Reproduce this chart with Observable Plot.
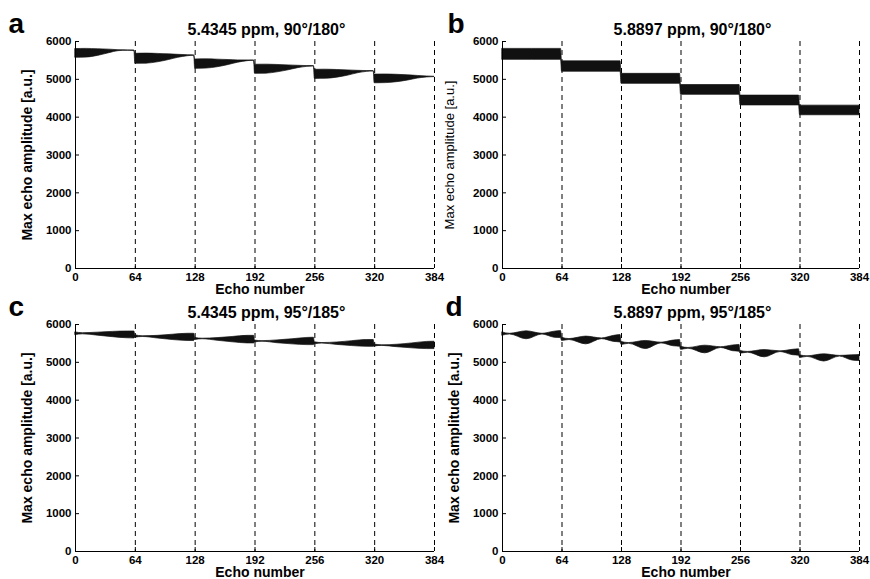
<!DOCTYPE html>
<html>
<head>
<meta charset="utf-8">
<script src="https://cdn.jsdelivr.net/npm/d3@7"></script>
<script src="https://cdn.jsdelivr.net/npm/@observablehq/plot@0.6"></script>
<style>
  html, body { margin: 0; padding: 0; background: white; }
  #root { position: relative; width: 870px; height: 579px; background: white; overflow: hidden; }
  .panel { position: absolute; }
</style>
</head>
<body>
<div id="root"></div>
<script>
// ---- tick labels / layout values ----
const xTicks = [0, 64, 128, 192, 256, 320, 384];
const yTicks = [0, 1000, 2000, 3000, 4000, 5000, 6000];
const blockEdges = [64, 128, 192, 256, 320, 384];
const xLabel = "Echo number";
const yLabel = "Max echo amplitude [a.u.]";
const titles = ["5.4345 ppm, 90°/180°", "5.8897 ppm, 90°/180°", "5.4345 ppm, 95°/185°", "5.8897 ppm, 95°/185°"];
const letters = ["a", "b", "c", "d"];

// ---- panel a: envelope of the oscillating echo amplitudes ----
const echoA = [0,12,24,36,46,56,63, 64,76,88,100,110,120,127, 128,140,152,164,174,184,191, 192,204,216,228,238,248,255, 256,268,280,292,302,312,319, 320,332,344,356,366,376,384];
const upperA = [5800,5805,5795,5785,5770,5765,5762, 5675,5680,5672,5660,5648,5638,5632, 5525,5528,5520,5510,5500,5500,5498, 5385,5388,5380,5368,5358,5350,5348, 5252,5255,5247,5235,5225,5218,5215, 5125,5128,5120,5105,5090,5075,5068];
const lowerA = [5570,5575,5620,5690,5745,5755,5752, 5410,5415,5450,5510,5570,5610,5625, 5278,5285,5320,5380,5440,5480,5492, 5145,5150,5185,5240,5295,5330,5342, 5012,5015,5045,5100,5160,5198,5208, 4895,4900,4925,4970,5020,5050,5060];

// ---- panel b ----
const echoB = [0,63, 64,127, 128,191, 192,255, 256,319, 320,384];
const upperB = [5805,5805, 5475,5475, 5145,5145, 4850,4850, 4570,4570, 4305,4305];
const lowerB = [5515,5515, 5200,5200, 4880,4880, 4590,4590, 4310,4310, 4050,4050];

// ---- panel c ----
const echoC = [0,8,24,40,56,63, 64,72,88,104,120,127, 128,136,152,168,184,191, 192,200,216,232,248,255, 256,264,280,296,312,319, 320,328,344,360,376,384];
const upperC = [5790,5770,5785,5805,5815,5815, 5715,5690,5700,5730,5755,5755, 5645,5625,5640,5670,5700,5700, 5575,5560,5580,5610,5645,5650, 5530,5510,5525,5560,5590,5590, 5470,5450,5465,5500,5540,5545];
const lowerC = [5720,5740,5705,5665,5635,5632, 5650,5670,5630,5590,5565,5565, 5590,5610,5570,5530,5500,5500, 5525,5545,5505,5475,5455,5455, 5475,5495,5460,5430,5410,5410, 5420,5435,5400,5370,5350,5350];

// ---- panel d ----
const echoD = [0,8,26,43,56,63, 64,72,90,107,120,127, 128,136,154,171,184,191, 192,200,218,235,248,255, 256,264,282,299,312,319, 320,328,346,363,376,384];
const upperD = [5790,5755,5820,5755,5810,5825, 5650,5615,5680,5632,5700,5720, 5540,5510,5565,5520,5575,5590, 5410,5380,5440,5400,5445,5460, 5300,5275,5325,5290,5330,5345, 5185,5160,5212,5170,5185,5195];
const lowerD = [5705,5735,5610,5735,5650,5640, 5565,5590,5475,5612,5540,5525, 5460,5490,5350,5500,5425,5410, 5330,5360,5237,5380,5295,5280, 5230,5255,5132,5272,5190,5175, 5115,5145,5020,5152,5050,5035];

const FONT = "'Liberation Sans', Arial, Helvetica, sans-serif";

function table(echo, upper, lower) {
  return echo.map((e, i) => ({echo: e, upper: upper[i], lower: lower[i]}));
}

function panel(cfg) {
  const chart = Plot.plot({
    width: 435,
    height: cfg.height,
    marginLeft: cfg.mL,
    marginRight: cfg.mR,
    marginTop: 41,
    marginBottom: cfg.mB,
    style: {fontFamily: FONT, fontSize: "11.5px", fontWeight: "bold", background: "transparent", overflow: "visible", color: "black"},
    x: {domain: [0, 384]},
    y: {domain: [0, 6000]},
    marks: [
      Plot.ruleX(blockEdges, {stroke: "black", strokeWidth: 1, strokeDasharray: "5,4"}),
      Plot.areaY(cfg.rows, {x: "echo", y1: "lower", y2: "upper", fill: "#111", stroke: "#111", strokeWidth: 0.7, curve: "monotone-x"}),
      Plot.ruleX([0], {stroke: "black"}),
      Plot.ruleY([0], {stroke: "black"}),
      Plot.axisX(xTicks, {tickSize: 0, tickPadding: 4, label: null, tickFormat: d3.format("d")}),
      Plot.axisX(xTicks, {tickSize: 4, dy: -4, fill: "none", label: null}),
      Plot.axisY(yTicks, {tickSize: 0, tickPadding: 4, label: null, tickFormat: d3.format("d")}),
      Plot.axisY(yTicks, {tickSize: 4, dx: 4, fill: "none", label: null}),
      Plot.text([cfg.title], {frameAnchor: "top", textAnchor: "middle", dx: 11.5, dy: -11.5, fontSize: 16, lineAnchor: "middle"}),
      Plot.text([cfg.letter], {frameAnchor: "top-left", textAnchor: "start", dx: cfg.letterDx, dy: -17, fontSize: 28, lineAnchor: "middle"}),
      Plot.text([xLabel], {frameAnchor: "bottom", textAnchor: "middle", dx: 5, dy: 21.5, fontSize: 14, lineAnchor: "middle"}),
      Plot.text([yLabel], {frameAnchor: "left", textAnchor: "middle", rotate: -90, dx: cfg.ylabelDx, fontSize: cfg.ylabelSize, fontWeight: cfg.ylabelWeight, lineAnchor: "middle"})
    ]
  });
  const div = document.createElement("div");
  div.className = "panel";
  div.style.left = cfg.left + "px";
  div.style.top = cfg.top + "px";
  div.appendChild(chart);
  document.getElementById("root").appendChild(div);
}

panel({letter: letters[0], title: titles[0], rows: table(echoA, upperA, lowerA), left: 0, top: 0, height: 290, mL: 75, mR: 1, mB: 22, letterDx: -67, ylabelDx: -48, ylabelSize: 14, ylabelWeight: "bold"});
panel({letter: letters[1], title: titles[1], rows: table(echoB, upperB, lowerB), left: 435, top: 0, height: 290, mL: 67, mR: 11, mB: 22, letterDx: -55, ylabelDx: -53, ylabelSize: 13, ylabelWeight: "normal"});
panel({letter: letters[2], title: titles[2], rows: table(echoC, upperC, lowerC), left: 0, top: 283, height: 296, mL: 75, mR: 1, mB: 28, letterDx: -67, ylabelDx: -48, ylabelSize: 14, ylabelWeight: "bold"});
panel({letter: letters[3], title: titles[3], rows: table(echoD, upperD, lowerD), left: 435, top: 283, height: 296, mL: 67, mR: 11, mB: 28, letterDx: -57, ylabelDx: -48, ylabelSize: 14, ylabelWeight: "bold"});
</script>
</body>
</html>
